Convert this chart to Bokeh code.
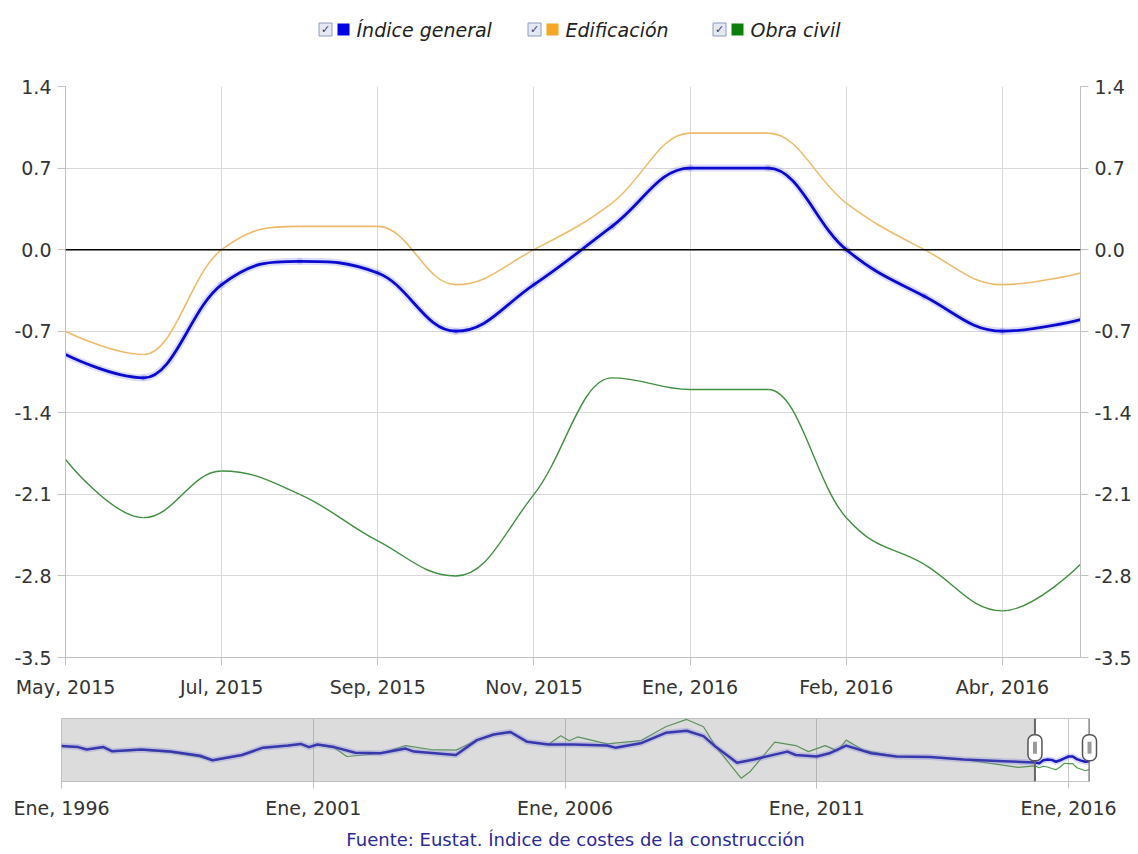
from bokeh.plotting import figure
from bokeh.models import (Range1d, FixedTicker, LinearAxis, Span, BoxAnnotation,
                          Title, NumeralTickFormatter, Rect)
from bokeh.layouts import column, row
from bokeh.embed import file_html
from bokeh.resources import INLINE
from bokeh.core.properties import value

# ---------------- data ----------------
months = ["2015-05", "2015-06", "2015-07", "2015-08", "2015-09", "2015-10", "2015-11",
          "2015-12", "2016-01", "2016-02", "2016-03", "2016-04", "2016-05", "2016-06"]
indice_general = [-0.9, -1.1, -0.3, -0.1, -0.2, -0.7, -0.3, 0.2, 0.7, 0.7, 0.0, -0.4, -0.7, -0.6]
edificacion = [-0.7, -0.9, 0.0, 0.2, 0.2, -0.3, 0.0, 0.4, 1.0, 1.0, 0.4, 0.0, -0.3, -0.2]
obra_civil = [-1.8, -2.3, -1.9, -2.1, -2.5, -2.8, -2.1, -1.1, -1.2, -1.2, -2.3, -2.7, -3.1, -2.7]

series_names = ["Índice general", "Edificación", "Obra civil"]
series_colors = ["#0000e6", "#f5a623", "#0a800a"]

x_tick_labels = ["May, 2015", "Jul, 2015", "Sep, 2015", "Nov, 2015",
                 "Ene, 2016", "Feb, 2016", "Abr, 2016"]
y_ticks = [-3.5, -2.8, -2.1, -1.4, -0.7, 0.0, 0.7, 1.4]

nav_tick_months = ["1996-01", "2001-01", "2006-01", "2011-01", "2016-01"]
nav_tick_labels = ["Ene, 1996", "Ene, 2001", "Ene, 2006", "Ene, 2011", "Ene, 2016"]

# navigator history, before May 2015
hist_months_general = ["1996-01", "1996-05", "1996-07", "1996-11", "1997-01", "1997-08", "1998-03",
                       "1998-10", "1999-01", "1999-08", "2000-01", "2000-07", "2000-10", "2000-12",
                       "2001-02", "2001-06", "2001-11", "2002-05", "2002-11", "2003-01", "2003-11",
                       "2004-04", "2004-08", "2004-12", "2005-04", "2005-09", "2006-03", "2006-11",
                       "2007-01", "2007-07", "2008-01", "2008-06", "2008-10", "2009-01", "2009-06",
                       "2009-10", "2010-06", "2010-08", "2011-01", "2011-04", "2011-08", "2012-02",
                       "2012-08", "2013-04", "2013-12", "2014-08"]
hist_general = [3.5, 3.2, 2.55, 3.2, 2.1, 2.55, 2.0, 0.9, -0.3, 1.1, 3.05, 3.6, 4.05, 3.2,
                3.9, 3.2, 1.7, 1.55, 2.8, 2.0, 1.1, 5.05, 6.55, 7.2, 4.6, 3.9, 3.9, 3.6,
                3.05, 4.2, 7.0, 7.55, 6.1, 3.2, -0.95, -0.1, 2.0, 1.1, 0.7, 1.55, 3.6, 1.55,
                0.7, 0.55, -0.1, -0.5]
hist_months_civil = ["1996-01", "1996-05", "1996-07", "1996-11", "1997-01", "1997-08", "1998-03",
                     "1998-10", "1999-01", "1999-08", "2000-01", "2000-07", "2000-10", "2000-12",
                     "2001-02", "2001-06", "2001-09", "2001-11", "2002-05", "2002-11", "2003-05",
                     "2003-11", "2004-04", "2004-08", "2004-12", "2005-04", "2005-09", "2005-12",
                     "2006-02", "2006-04", "2006-11", "2007-07", "2008-01", "2008-06", "2008-10",
                     "2009-01", "2009-07", "2009-09", "2010-03", "2010-08", "2010-11", "2011-03",
                     "2011-06", "2011-08", "2011-12", "2012-08", "2013-04", "2013-12", "2015-01"]
hist_civil = [3.4, 3.1, 2.5, 3.1, 2.0, 2.4, 1.8, 0.6, -0.4, 1.0, 2.9, 3.5, 4.0, 3.1,
              3.8, 3.0, 0.7, 0.9, 1.5, 3.6, 2.55, 2.4, 5.0, 6.5, 7.0, 4.6, 3.9, 6.2,
              4.9, 5.9, 4.05, 4.9, 8.6, 10.55, 8.6, 3.2, -5.1, -3.45, 4.5, 3.6, 2.0, 3.6,
              2.2, 5.05, 2.4, 0.7, 0.55, -0.1, -2.2]

source_text = "Fuente: Eustat. Índice de costes de la construcción"

# ---------------- helpers ----------------
FONT = "DejaVu Sans"
TICK_SIZE = "19px"
W = 1134
FL, FR = 65, 1080          # main plot frame left / right (page px)


def moff(s):
    y, m = s.split("-")
    return (int(y) - 1996) * 12 + int(m) - 1


def spline(xv, yv, smoothing=1.5):
    n = len(xv)
    lc = [(xv[i], yv[i]) for i in range(n)]
    rc = [(xv[i], yv[i]) for i in range(n)]
    d = smoothing + 1
    for i in range(1, n - 1):
        x, y = xv[i], yv[i]
        lx, ly = xv[i - 1], yv[i - 1]
        nx, ny = xv[i + 1], yv[i + 1]
        lcx = (smoothing * x + lx) / d
        lcy = (smoothing * y + ly) / d
        rcx = (smoothing * x + nx) / d
        rcy = (smoothing * y + ny) / d
        if rcx != lcx:
            corr = (rcy - lcy) * (rcx - x) / (rcx - lcx) + y - rcy
            lcy += corr
            rcy += corr
            if lcy > ly and lcy > y:
                lcy = max(ly, y); rcy = 2 * y - lcy
            elif lcy < ly and lcy < y:
                lcy = min(ly, y); rcy = 2 * y - lcy
            if rcy > ny and rcy > y:
                rcy = max(ny, y); lcy = 2 * y - rcy
            elif rcy < ny and rcy < y:
                rcy = min(ny, y); lcy = 2 * y - rcy
        lc[i] = (lcx, lcy)
        rc[i] = (rcx, rcy)
    return dict(x0=xv[:-1], y0=yv[:-1], x1=xv[1:], y1=yv[1:],
                cx0=[rc[i][0] for i in range(n - 1)], cy0=[rc[i][1] for i in range(n - 1)],
                cx1=[lc[i + 1][0] for i in range(n - 1)], cy1=[lc[i + 1][1] for i in range(n - 1)])


def style_axis(ax, standoff=6, tick_out=8):
    ax.axis_line_color = "#c0c0c0"
    ax.major_tick_line_color = "#c0c0c0"
    ax.major_tick_out = tick_out
    ax.major_tick_in = 0
    ax.minor_tick_line_color = None
    ax.major_label_text_font = FONT
    ax.major_label_text_font_size = TICK_SIZE
    ax.major_label_text_color = "#333333"
    ax.major_label_standoff = standoff


xs = [moff(m) for m in months]

# ---------------- legend strip (x range = page pixels) ----------------
LH = 68
leg = figure(width=W, height=LH, x_range=Range1d(FL, FR), y_range=Range1d(0, LH),
             toolbar_location=None, output_backend="svg",
             x_axis_location=None, y_axis_location=None,
             min_border_left=FL, min_border_right=W - FR, min_border_top=0, min_border_bottom=0)
leg.grid.visible = False
leg.outline_line_color = None
tx_x = [356, 565, 750]
cb_x = [t - 31 for t in tx_x]
sq_x = [t - 13 for t in tx_x]
ly = LH - 29
leg.scatter(cb_x, [ly] * 3, marker="square", size=13, fill_color="#e4e9f4",
            line_color="#8f9cbf", line_width=1)
leg.text(cb_x, [ly] * 3, text=["\u2713"] * 3, text_font=value(FONT), text_font_size="11px",
         text_color="#34406e", text_align="center", text_baseline="middle")
leg.scatter(sq_x, [ly] * 3, marker="square", size=12, fill_color=series_colors,
            line_color=None)
leg.text(tx_x, [ly] * 3, text=series_names, text_font=value(FONT), text_font_size="19px",
         text_font_style="italic", text_color="#222222", text_align="left",
         text_baseline="middle")

# ---------------- main chart ----------------
p = figure(width=W, height=637, x_range=Range1d(xs[0], xs[-1]),
           y_range=Range1d(y_ticks[0], y_ticks[-1]),
           output_backend="svg", toolbar_location=None,
           min_border_left=FL, min_border_right=W - FR, min_border_top=18, min_border_bottom=48)
p.outline_line_color = None
xt = xs[0::2][:len(x_tick_labels)]
p.xaxis.ticker = FixedTicker(ticks=xt)
p.xaxis.major_label_overrides = {t: lab for t, lab in zip(xt, x_tick_labels)}
p.yaxis.ticker = FixedTicker(ticks=y_ticks)
p.yaxis.formatter = NumeralTickFormatter(format="0.0")
ra = LinearAxis(ticker=FixedTicker(ticks=y_ticks), formatter=NumeralTickFormatter(format="0.0"))
p.add_layout(ra, "right")
style_axis(p.xaxis[0], standoff=10)
style_axis(p.yaxis[0], standoff=6)
style_axis(ra, standoff=6)
p.xgrid.grid_line_color = "#d8d8d8"
p.ygrid.grid_line_color = "#d8d8d8"
p.add_layout(Span(location=0, dimension="width", line_color="#000000", line_width=1.5))

p.bezier(source=spline(xs, edificacion), x0="x0", y0="y0", x1="x1", y1="y1",
         cx0="cx0", cy0="cy0", cx1="cx1", cy1="cy1", line_color="#eebb6a", line_width=1.6)
p.bezier(source=spline(xs, obra_civil), x0="x0", y0="y0", x1="x1", y1="y1",
         cx0="cx0", cy0="cy0", cx1="cx1", cy1="cy1", line_color="#3f8f3f", line_width=1.4)
sg = spline(xs, indice_general)
p.bezier(source=dict(sg), x0="x0", y0="y0", x1="x1", y1="y1",
         cx0="cx0", cy0="cy0", cx1="cx1", cy1="cy1", line_color="#8a8af2", line_width=7,
         line_alpha=0.3, line_cap="round")
p.bezier(source=dict(sg), x0="x0", y0="y0", x1="x1", y1="y1",
         cx0="cx0", cy0="cy0", cx1="cx1", cy1="cy1", line_color="#0a0ad0", line_width=2.8,
         line_cap="round")

# ---------------- navigator ----------------
NL, NR = 61, 1089
nav = figure(width=W, height=149, x_range=Range1d(0, xs[-1]), y_range=Range1d(-5.95, 10.8),
             output_backend="svg", toolbar_location=None, y_axis_location=None,
             min_border_left=NL, min_border_right=W - NR, min_border_top=13, min_border_bottom=69)
nav.outline_line_color = "#c4c4c4"
ntk = [moff(t) for t in nav_tick_months]
nav.xaxis.ticker = FixedTicker(ticks=ntk)
nav.xaxis.major_label_overrides = {t: lab for t, lab in zip(ntk, nav_tick_labels)}
style_axis(nav.xaxis[0], standoff=8, tick_out=7)
nav.xaxis[0].axis_line_color = None
nav.xgrid.grid_line_color = "#c8c8c8"
nav.ygrid.visible = False

nav_x_civil = [moff(m) for m in hist_months_civil] + xs
nav_y_civil = hist_civil + obra_civil
nav_x_gen = [moff(m) for m in hist_months_general] + xs
nav_y_gen = hist_general + indice_general
nav.line(nav_x_civil, nav_y_civil, line_color="#4a9a4a", line_width=1.2)
nav.line(nav_x_gen, nav_y_gen, line_color="#8a8af2", line_width=6, line_alpha=0.35,
         line_join="round")
nav.line(nav_x_gen, nav_y_gen, line_color="#1c1cc0", line_width=2.5, line_join="round")

nav.add_layout(BoxAnnotation(right=xs[0], fill_color="#808080", fill_alpha=0.28,
                             line_color=None))
for xe in (xs[0], xs[-1]):
    nav.add_layout(Span(location=xe, dimension="height", line_color="#666666", line_width=2))

ymid = (nav.y_range.start + nav.y_range.end) / 2 + 0.6
rect_kw = {}
if "border_radius" in Rect.properties():
    rect_kw["border_radius"] = 6
h1 = nav.rect(x=[xs[0], xs[-1]], y=[ymid, ymid], width=14, height=26, width_units="screen",
              height_units="screen", fill_color="white", line_color="#555555", line_width=1.5,
              **rect_kw)
h2 = nav.rect(x=[xs[0], xs[-1]], y=[ymid, ymid], width=4, height=12, width_units="screen",
              height_units="screen", fill_color="#9a9a9a", line_color=None)
h1.level = "overlay"
h2.level = "overlay"

nav.add_layout(Title(text=source_text, align="center", text_font=FONT, text_font_size="18px",
                     text_font_style="normal", text_color="#2a2a96"), "below")

layout = column(leg, p, row(nav))
open("out.html", "w").write(file_html(layout, INLINE))
